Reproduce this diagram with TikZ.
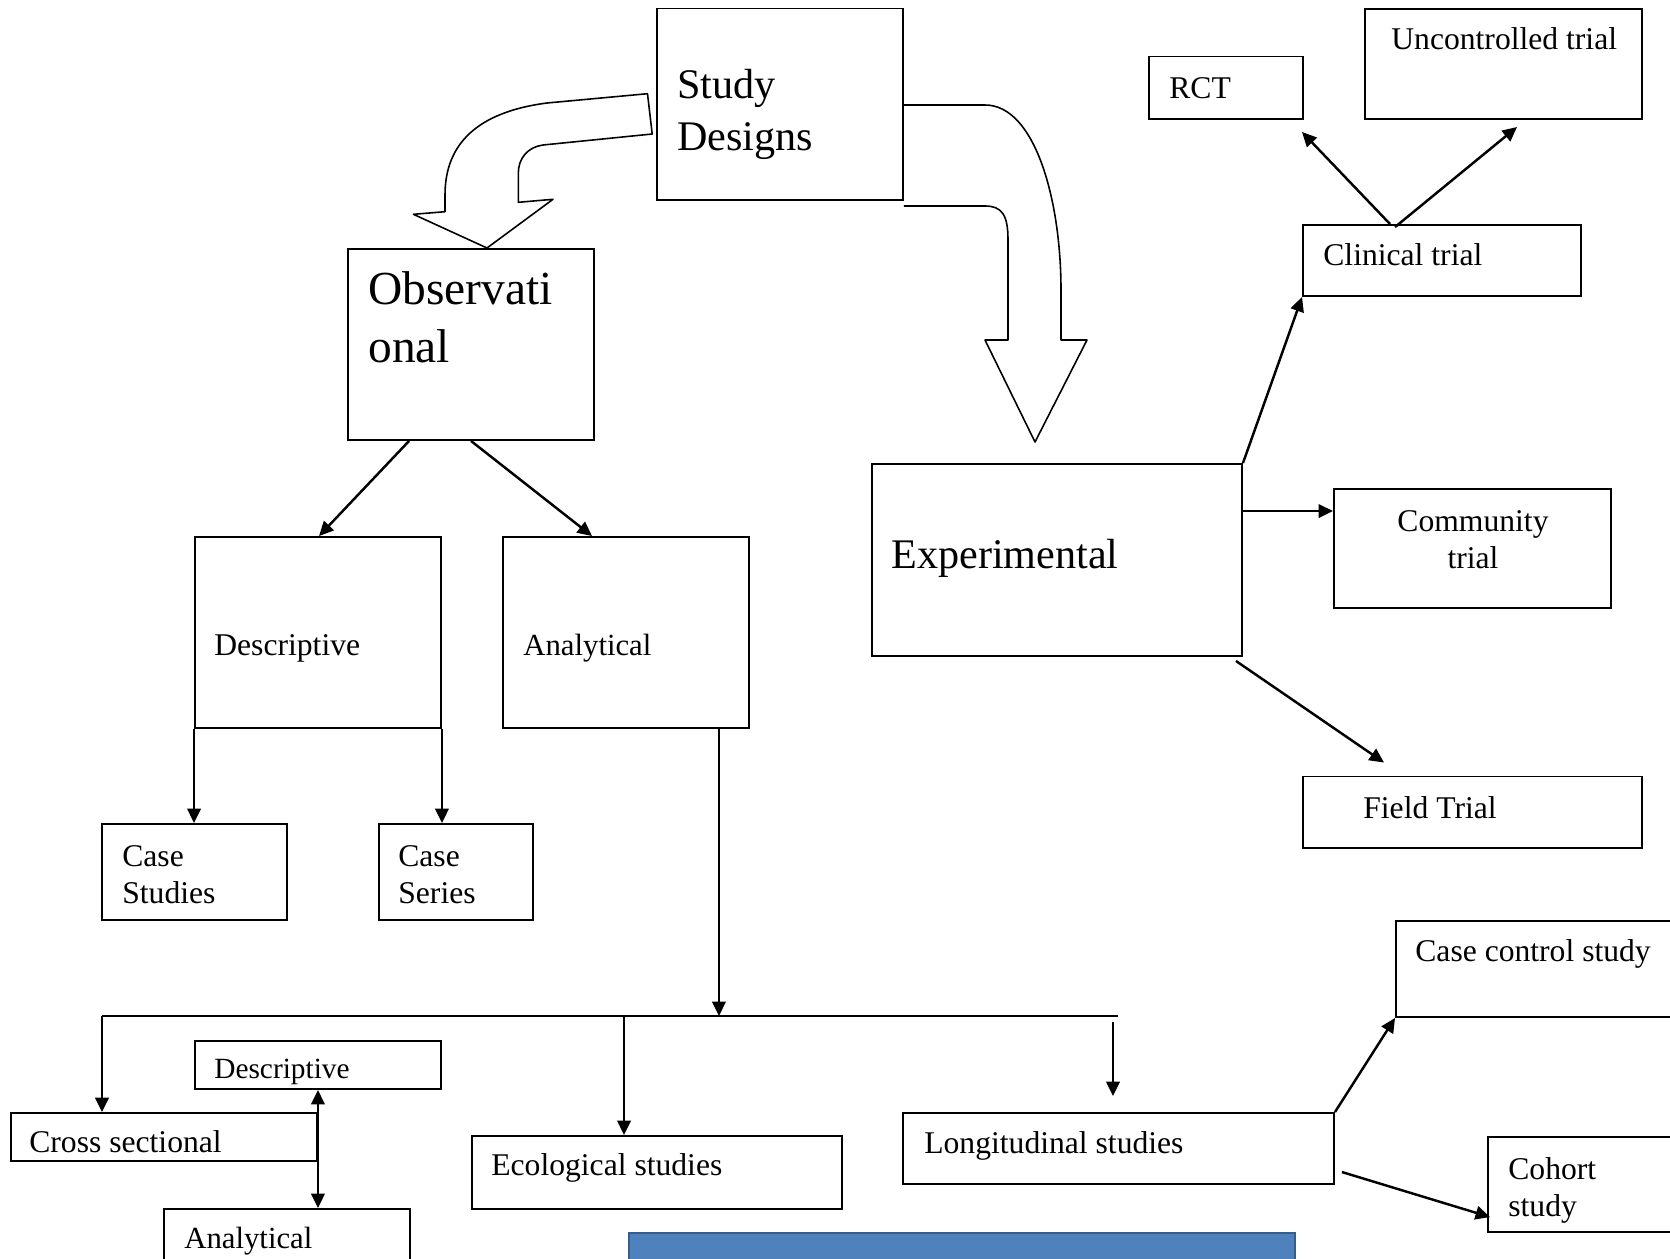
\documentclass[tikz,border=0pt]{standalone}
\usepackage{fontspec}
\setmainfont{Liberation Serif}
\usetikzlibrary{arrows.meta,calc,fit}

\definecolor{barblue}{HTML}{4F81BD}
\definecolor{barline}{HTML}{385D8A}

\tikzset{
  box/.style={draw, line width=1.1pt, inner sep=0pt},
  txt/.style={anchor=base west, inner sep=0pt, align=left, font=\fontsize{18}{20.8}\selectfont},
  txtsm/.style={txt, font=\fontsize{16.7}{20}\selectfont},
  txtmid/.style={txt, font=\fontsize{17.5}{20.5}\selectfont},
  txtbig/.style={txt, font=\fontsize{24}{29.5}\selectfont},
  arr/.style={line width=1.4pt, -{Triangle[length=0.29cm,width=0.27cm]}},
  dblarr/.style={line width=1.4pt, {Triangle[length=0.29cm,width=0.27cm]}-{Triangle[length=0.29cm,width=0.27cm]}},
  blockarr/.style={draw, line width=0.9pt, line join=round},
}

\begin{document}
\begin{tikzpicture}[x=0.02cm, y=-0.02cm]
\useasboundingbox (0,0) rectangle (1670,1258);
\clip (0,0) rectangle (1670,1258);

% boxes
\node[box, fit={(657,8.5) (903,200)}] (study) {};
\node[box, fit={(348,249) (594,440)}] (obs) {};
\node[box, fit={(195,537) (441,728)}] (desc) {};
\node[box, fit={(503,537) (749,728)}] (anal) {};
\node[box, fit={(102,824) (287,920)}] (casestud) {};
\node[box, fit={(379,824) (533,920)}] (caseser) {};
\node[box, fit={(872,464) (1242,656)}] (exper) {};
\node[box, fit={(1149,56.5) (1303,119)}] (rct) {};
\node[box, fit={(1365,9) (1642,119)}] (unctrl) {};
\node[box, fit={(1303,225) (1581,296)}] (clin) {};
\node[box, fit={(1334,489) (1611,608)}] (comm) {};
\node[box, fit={(1303,776.5) (1642,848)}] (field) {};
\node[box, fit={(1396,921) (1690,1017)}] (casectrl) {};
\node[box, fit={(1488,1137) (1690,1232)}] (cohort) {};
\node[box, fit={(903,1113) (1334,1184)}] (longi) {};
\node[box, fit={(472,1136) (842,1209)}] (eco) {};
\node[box, fit={(11,1113) (317,1161)}] (cross) {};
\node[box, fit={(195,1041) (441,1089)}] (desc2) {};
\node[box, fit={(164,1209) (410,1270)}] (anal2) {};
\node[fill=barblue, draw=barline, line width=1pt, inner sep=0pt, fit={(629,1233) (1295,1280)}] (bluebar) {};

% texts (base = last line)
\node[txtbig] (study-t) at (677,150) {Study\\Designs};
\node[txt, font=\fontsize{27}{32.5}\selectfont] (obs-t) at (368,362) {Observati\\onal};
\node[txt] (desc-t) at (214,655) {Descriptive};
\node[txtmid] (anal-t) at (523,655) {Analytical};
\node[txt] (casestud-t) at (122,903.3) {Case\\Studies};
\node[txt] (caseser-t) at (398,903.3) {Case\\Series};
\node[txtbig] (exper-t) at (891,568) {Experimental};
\node[txt] (rct-t) at (1169,98) {RCT};
\node[txt] (unctrl-t) at (1391,49.5) {Uncontrolled trial};
\node[txt] (clin-t) at (1323,265) {Clinical trial};
\node[txt, anchor=base, align=center] (comm-t) at (1473,568) {Community\\trial};
\node[txt] (field-t) at (1363,818) {Field Trial};
\node[txt] (casectrl-t) at (1415,961.7) {Case control study};
\node[txt] (cohort-t) at (1508,1216) {Cohort\\study};
\node[txt] (longi-t) at (924,1153) {Longitudinal studies};
\node[txt] (eco-t) at (491,1175) {Ecological studies};
\node[txt] (cross-t) at (29,1152.7) {Cross sectional};
\node[txtsm] (desc2-t) at (214,1078.7) {Descriptive};
\node[txtmid] (anal2-t) at (184,1248) {Analytical};

% block arrows
\draw[blockarr] (647.5,93.7) -- (547,103) .. controls (470,113) and (445,150) .. (445,195)
  -- (445,211.7) -- (413.4,214.3) -- (487,248) -- (553,199.3) -- (518.3,202.3) -- (518.3,173.3)
  .. controls (518.3,158) and (528,147) .. (543,145) -- (652.2,134) -- cycle;
\draw[blockarr] (study.east |- 0,105) -- (985,105) .. controls (1035,105) and (1061,200) .. (1061,290)
  -- (1061,340) -- (1087,340) -- (1035,442) -- (985,340) -- (1008,340) -- (1008,240)
  .. controls (1008,215) and (1002,206) .. (985,206) -- (study.east |- 0,206);

% observational branch
\draw[arr] ($(obs.south west)+(62,0)$) -- ($(desc.north west)+(125,0)$);
\draw[arr] ($(obs.south west)+(124,0)$) -- ($(anal.north west)+(90,0)$);
\draw[arr] (desc.south west) -- (desc.south west |- casestud.north);
\draw[arr] (desc.south east) -- (desc.south east |- caseser.north);

\coordinate (bus-l) at (102,1016);
\coordinate (bus-r) at (1118,1016);
\draw[arr] ($(anal.south east)+(-31,0)$) coordinate (a1) -- (a1 |- bus-l);
\draw[line width=1.4pt] (bus-l) -- (bus-r);
\draw[arr] (bus-l) -- (bus-l |- cross.north);
\draw[arr] ($(eco.north west)+(153,0)$) coordinate (e2) ++(0,-120) -- (e2);
\draw[arr] ($(bus-r)+(-5,6)$) coordinate (l1) -- ($(l1 |- longi.north)+(0,-16)$);
\draw[dblarr] (cross.east |- desc2.south) -- (cross.east |- anal2.north);

% experimental branch
\draw[arr] (exper.north east) -- (clin.south west);
\draw[arr] ($(exper.north east)+(0,48)$) coordinate (e1) -- (e1 -| comm.west);
\draw[arr] ($(exper.south east)+(-7,4)$) -- ($(field.north west)+(82,-13)$);
\draw[arr] ($(clin.north west)+(88,0)$) -- ($(rct.south east)+(-2,12)$);
\draw[arr] ($(clin.north west)+(93,3)$) -- ($(unctrl.south west)+(153,7)$);

% longitudinal
\draw[arr] (longi.north east) -- (casectrl.south west);
\draw[arr] ($(longi.north east)+(7,60)$) -- ($(cohort.north west)+(3,81)$);
\end{tikzpicture}
\end{document}
